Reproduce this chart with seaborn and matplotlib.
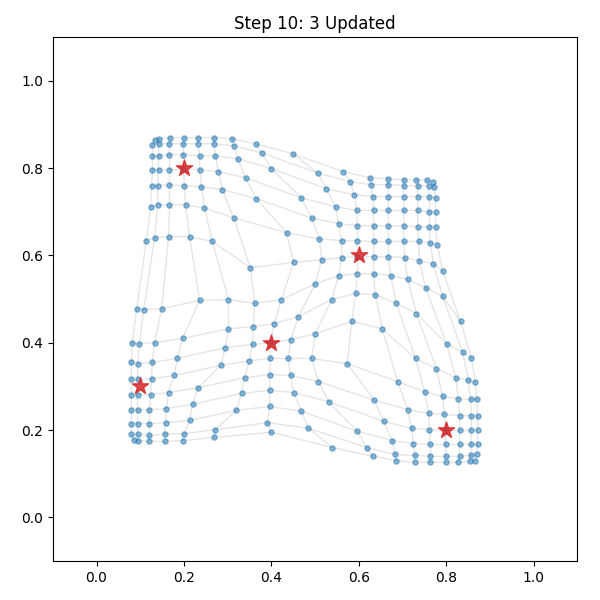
import numpy as np
import pandas as pd
import matplotlib
matplotlib.use("Agg")
import matplotlib.pyplot as plt
import seaborn as sns

title = "Step 10: 3 Updated"

# training points (red stars)
data_x = [0.1, 0.2, 0.4, 0.6, 0.8]
data_y = [0.3, 0.8, 0.4, 0.6, 0.2]

# 16 x 16 map nodes, row by row
node_x = [
    [0.133, 0.144, 0.169, 0.201, 0.233, 0.270, 0.311, 0.364, 0.449, 0.565, 0.625, 0.666, 0.703, 0.732, 0.757, 0.771],
    [0.128, 0.142, 0.167, 0.199, 0.233, 0.270, 0.314, 0.378, 0.506, 0.581, 0.629, 0.668, 0.703, 0.735, 0.760, 0.773],
    [0.128, 0.142, 0.167, 0.199, 0.236, 0.272, 0.323, 0.400, 0.526, 0.590, 0.632, 0.668, 0.703, 0.735, 0.762, 0.776],
    [0.128, 0.142, 0.167, 0.199, 0.236, 0.279, 0.341, 0.469, 0.547, 0.595, 0.634, 0.668, 0.703, 0.735, 0.762, 0.776],
    [0.126, 0.140, 0.167, 0.201, 0.240, 0.288, 0.366, 0.492, 0.554, 0.597, 0.634, 0.668, 0.703, 0.735, 0.762, 0.776],
    [0.124, 0.140, 0.167, 0.204, 0.247, 0.314, 0.435, 0.510, 0.561, 0.597, 0.634, 0.668, 0.703, 0.737, 0.764, 0.780],
    [0.114, 0.133, 0.165, 0.213, 0.265, 0.352, 0.451, 0.515, 0.561, 0.597, 0.634, 0.668, 0.705, 0.739, 0.771, 0.792],
    [0.092, 0.108, 0.149, 0.236, 0.302, 0.362, 0.423, 0.501, 0.554, 0.597, 0.634, 0.673, 0.712, 0.753, 0.792, 0.833],
    [0.082, 0.098, 0.133, 0.197, 0.302, 0.359, 0.407, 0.462, 0.538, 0.593, 0.638, 0.686, 0.732, 0.801, 0.838, 0.858],
    [0.080, 0.094, 0.128, 0.185, 0.295, 0.357, 0.398, 0.444, 0.501, 0.584, 0.654, 0.730, 0.778, 0.822, 0.851, 0.867],
    [0.080, 0.094, 0.126, 0.178, 0.284, 0.350, 0.398, 0.439, 0.492, 0.574, 0.689, 0.751, 0.792, 0.828, 0.856, 0.870],
    [0.080, 0.094, 0.124, 0.165, 0.233, 0.339, 0.396, 0.444, 0.508, 0.636, 0.712, 0.760, 0.796, 0.831, 0.858, 0.872],
    [0.080, 0.094, 0.121, 0.160, 0.220, 0.332, 0.396, 0.451, 0.531, 0.657, 0.721, 0.762, 0.799, 0.831, 0.858, 0.872],
    [0.080, 0.094, 0.121, 0.158, 0.213, 0.320, 0.396, 0.469, 0.597, 0.677, 0.725, 0.764, 0.799, 0.831, 0.858, 0.872],
    [0.080, 0.094, 0.121, 0.156, 0.201, 0.272, 0.391, 0.485, 0.618, 0.684, 0.728, 0.764, 0.799, 0.831, 0.856, 0.870],
    [0.085, 0.096, 0.121, 0.156, 0.199, 0.270, 0.400, 0.540, 0.632, 0.686, 0.728, 0.764, 0.799, 0.828, 0.854, 0.867],
]
node_y = [
    [0.865, 0.867, 0.870, 0.870, 0.870, 0.870, 0.867, 0.856, 0.833, 0.792, 0.778, 0.776, 0.773, 0.773, 0.773, 0.769],
    [0.854, 0.856, 0.856, 0.856, 0.856, 0.856, 0.851, 0.835, 0.789, 0.769, 0.762, 0.762, 0.760, 0.760, 0.760, 0.757],
    [0.828, 0.828, 0.831, 0.831, 0.828, 0.828, 0.822, 0.799, 0.753, 0.739, 0.735, 0.735, 0.735, 0.735, 0.735, 0.732],
    [0.796, 0.796, 0.796, 0.799, 0.796, 0.792, 0.778, 0.732, 0.712, 0.703, 0.703, 0.703, 0.703, 0.703, 0.700, 0.700],
    [0.760, 0.760, 0.762, 0.760, 0.757, 0.751, 0.730, 0.686, 0.673, 0.668, 0.668, 0.668, 0.668, 0.666, 0.666, 0.666],
    [0.712, 0.716, 0.716, 0.716, 0.709, 0.686, 0.652, 0.638, 0.634, 0.634, 0.632, 0.632, 0.632, 0.632, 0.629, 0.625],
    [0.634, 0.641, 0.643, 0.643, 0.632, 0.572, 0.584, 0.590, 0.595, 0.597, 0.597, 0.597, 0.595, 0.588, 0.581, 0.565],
    [0.478, 0.476, 0.478, 0.497, 0.499, 0.490, 0.499, 0.535, 0.554, 0.558, 0.558, 0.554, 0.545, 0.526, 0.506, 0.449],
    [0.400, 0.398, 0.400, 0.410, 0.432, 0.437, 0.444, 0.460, 0.499, 0.513, 0.510, 0.490, 0.467, 0.398, 0.378, 0.364],
    [0.355, 0.352, 0.355, 0.364, 0.389, 0.396, 0.400, 0.407, 0.421, 0.449, 0.432, 0.364, 0.341, 0.320, 0.314, 0.309],
    [0.316, 0.316, 0.318, 0.325, 0.348, 0.359, 0.364, 0.364, 0.364, 0.352, 0.311, 0.288, 0.277, 0.272, 0.270, 0.270],
    [0.281, 0.281, 0.281, 0.286, 0.297, 0.320, 0.327, 0.325, 0.311, 0.268, 0.247, 0.238, 0.236, 0.233, 0.233, 0.233],
    [0.247, 0.247, 0.247, 0.249, 0.259, 0.284, 0.291, 0.286, 0.265, 0.220, 0.204, 0.201, 0.199, 0.199, 0.199, 0.199],
    [0.215, 0.215, 0.215, 0.217, 0.222, 0.245, 0.254, 0.243, 0.197, 0.176, 0.169, 0.167, 0.167, 0.167, 0.167, 0.167],
    [0.190, 0.190, 0.188, 0.190, 0.192, 0.201, 0.217, 0.204, 0.160, 0.144, 0.142, 0.140, 0.140, 0.140, 0.142, 0.144],
    [0.178, 0.176, 0.174, 0.174, 0.176, 0.183, 0.195, 0.160, 0.140, 0.130, 0.126, 0.126, 0.126, 0.126, 0.128, 0.130],
]

gx = np.array(node_x)
gy = np.array(node_y)
n_rows, n_cols = gx.shape

# grid edges: every row and every column as one polyline
segs = []
for i in range(n_rows):
    for j in range(n_cols):
        segs.append(dict(line=f"r{i}", order=j, x=gx[i, j], y=gy[i, j]))
for j in range(n_cols):
    for i in range(n_rows):
        segs.append(dict(line=f"c{j}", order=i, x=gx[i, j], y=gy[i, j]))
edges = pd.DataFrame(segs)

nodes = pd.DataFrame({"x": gx.ravel(), "y": gy.ravel()})
points = pd.DataFrame({"x": data_x, "y": data_y})

fig = plt.figure(figsize=(6, 6), dpi=100)
ax = fig.add_axes([0.088, 0.065, 0.874, 0.873])

sns.lineplot(data=edges, x="x", y="y", units="line", estimator=None, sort=False,
             color="gray", alpha=0.2, linewidth=1, ax=ax, zorder=1)
ax.scatter(nodes.x, nodes.y, s=14, color="tab:blue", alpha=0.5, zorder=2)
ax.scatter(points.x, points.y, s=150, marker="*", color="tab:red", alpha=0.85, zorder=3)

ax.set_xlim(-0.1, 1.1)
ax.set_ylim(-0.1, 1.1)
ax.set_xticks(np.arange(0, 1.01, 0.2))
ax.set_yticks(np.arange(0, 1.01, 0.2))
ax.set_xlabel("")
ax.set_ylabel("")
ax.set_title(title)

fig.savefig("out.png", dpi=100)
